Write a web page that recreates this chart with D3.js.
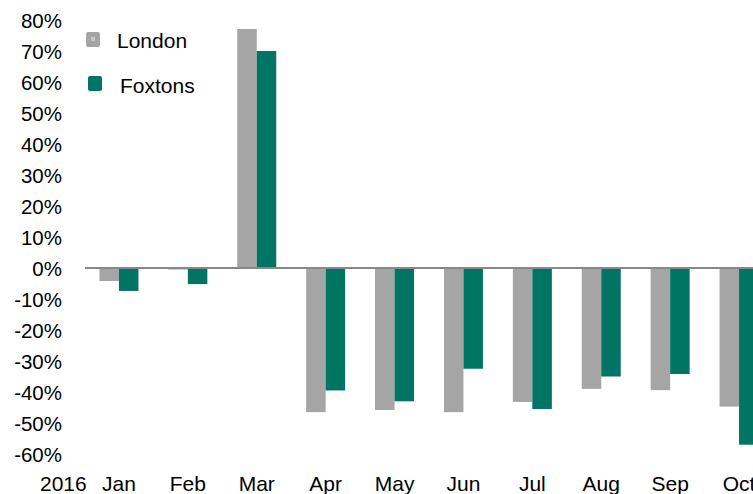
<!DOCTYPE html>
<html>
<head>
<meta charset="utf-8">
<script src="https://cdn.jsdelivr.net/npm/d3@7"></script>
<style>
    body { margin: 0; background: #fff; }
    svg { display: block; overflow: hidden; }
    text { font-family: "Liberation Sans", Arial, sans-serif; fill: #000; }
</style>
</head>
<body>
<script>
// Monthly change, 2016
const months = ['Jan', 'Feb', 'Mar', 'Apr', 'May', 'Jun', 'Jul', 'Aug', 'Sep', 'Oct'];
const london = [-4.2, -0.5, 77.1, -46.5, -45.8, -46.5, -43.2, -39.0, -39.4, -44.7];
const foxtons = [-7.4, -5.2, 70.0, -39.5, -43.0, -32.5, -45.5, -35.0, -34.2, -57.0];
const yTicks = [80, 70, 60, 50, 40, 30, 20, 10, 0, -10, -20, -30, -40, -50, -60];
const seriesNames = ['London', 'Foxtons'];
const colors = { London: '#a5a5a5', Foxtons: '#007563' };

const width = 753, height = 494;

let svg = d3.select('body').append('svg')
    .attr('width', width)
    .attr('height', height);

let x = d3.scaleBand()
    .domain(months)
    .range([84.5, 84.5 + 68.9 * months.length]);

let xSub = d3.scaleBand()
    .domain(seriesNames)
    .range([0, x.bandwidth()])
    .paddingOuter(0.767);

let y = d3.scaleLinear()
    .domain([-60, 80])
    .range([454, 20]);

// y axis labels only
let yAxis = d3.axisLeft(y)
    .tickValues(yTicks)
    .tickFormat(d => d + '%')
    .tickSize(0)
    .tickPadding(0);

svg.append('g')
    .attr('transform', 'translate(62,0)')
    .call(yAxis)
    .call(g => g.select('.domain').remove())
    .selectAll('text')
    .style('font-size', '20.5px')
    .attr('dy', '0.35em');

let data = months.map((m, i) => ({ month: m, London: london[i], Foxtons: foxtons[i] }));

let groups = svg.selectAll('.month')
    .data(data)
    .enter()
    .append('g')
    .attr('class', 'month')
    .attr('transform', d => 'translate(' + x(d.month) + ',0)');

groups.selectAll('rect')
    .data(d => seriesNames.map(s => ({ key: s, value: d[s] })))
    .enter()
    .append('rect')
    .attr('x', d => xSub(d.key))
    .attr('width', xSub.bandwidth())
    .attr('y', d => y(Math.max(0, d.value)))
    .attr('height', d => Math.abs(y(d.value) - y(0)))
    .attr('fill', d => colors[d.key]);

// zero line
svg.append('line')
    .attr('x1', 85)
    .attr('x2', width)
    .attr('y1', y(0))
    .attr('y2', y(0))
    .attr('stroke', '#888')
    .attr('stroke-width', 2);

// month labels
svg.selectAll('.monthLabel')
    .data(months)
    .enter()
    .append('text')
    .attr('class', 'monthLabel')
    .attr('x', d => x(d) + x.bandwidth() / 2)
    .attr('y', 491)
    .style('text-anchor', 'middle')
    .style('font-size', '21px')
    .text(d => d);

svg.append('text')
    .attr('x', 40)
    .attr('y', 491)
    .style('font-size', '21px')
    .text('2016');

// legend
let legend = [
    { name: 'London', sx: 86, sy: 32, tx: 117, ty: 48 },
    { name: 'Foxtons', sx: 88, sy: 76, tx: 120, ty: 93 }
];

legend.forEach(function(l) {
    svg.append('rect')
        .attr('x', l.sx)
        .attr('y', l.sy)
        .attr('width', 14)
        .attr('height', 15)
        .attr('rx', 2)
        .attr('fill', colors[l.name]);
    if (l.name === 'London') {
        svg.append('rect')
            .attr('x', l.sx + 5)
            .attr('y', l.sy + 5)
            .attr('width', 4)
            .attr('height', 4)
            .attr('fill', '#c8c8c8');
    }
    svg.append('text')
        .attr('x', l.tx)
        .attr('y', l.ty)
        .style('font-size', '21px')
        .text(l.name);
});
</script>
</body>
</html>
